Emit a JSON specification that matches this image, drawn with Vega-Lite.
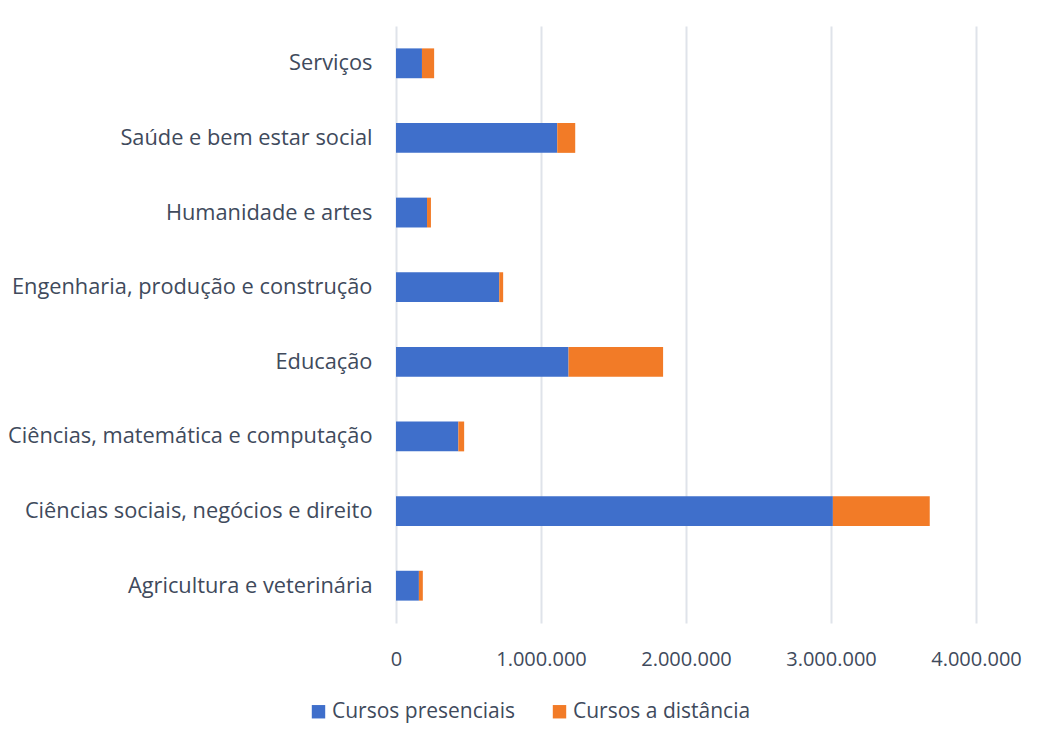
{
  "$schema": "https://vega.github.io/schema/vega-lite/v6.json",
  "width": 580,
  "height": 597,
  "autosize": {"type": "none"},
  "padding": {"left": 396, "top": 26, "right": 67, "bottom": 108},
  "background": "white",
  "config": {
    "locale": {"number": {"decimal": ",", "thousands": ".", "grouping": [3], "currency": ["R$", ""]}},
    "view": {"stroke": null},
    "font": "Open Sans"
  },
  "data": {
    "values": [
      {"area": "Serviços", "tipo": "Cursos presenciais", "ord": 1, "valor": 179000},
      {"area": "Serviços", "tipo": "Cursos a distância", "ord": 2, "valor": 84000},
      {"area": "Saúde e bem estar social", "tipo": "Cursos presenciais", "ord": 1, "valor": 1112000},
      {"area": "Saúde e bem estar social", "tipo": "Cursos a distância", "ord": 2, "valor": 124000},
      {"area": "Humanidade e artes", "tipo": "Cursos presenciais", "ord": 1, "valor": 214000},
      {"area": "Humanidade e artes", "tipo": "Cursos a distância", "ord": 2, "valor": 27000},
      {"area": "Engenharia, produção e construção", "tipo": "Cursos presenciais", "ord": 1, "valor": 712000},
      {"area": "Engenharia, produção e construção", "tipo": "Cursos a distância", "ord": 2, "valor": 27000},
      {"area": "Educação", "tipo": "Cursos presenciais", "ord": 1, "valor": 1190000},
      {"area": "Educação", "tipo": "Cursos a distância", "ord": 2, "valor": 652000},
      {"area": "Ciências, matemática e computação", "tipo": "Cursos presenciais", "ord": 1, "valor": 430000},
      {"area": "Ciências, matemática e computação", "tipo": "Cursos a distância", "ord": 2, "valor": 40000},
      {"area": "Ciências sociais, negócios e direito", "tipo": "Cursos presenciais", "ord": 1, "valor": 3013000},
      {"area": "Ciências sociais, negócios e direito", "tipo": "Cursos a distância", "ord": 2, "valor": 668000},
      {"area": "Agricultura e veterinária", "tipo": "Cursos presenciais", "ord": 1, "valor": 158000},
      {"area": "Agricultura e veterinária", "tipo": "Cursos a distância", "ord": 2, "valor": 27000}
    ]
  },
  "mark": {"type": "bar"},
  "encoding": {
    "y": {
      "field": "area",
      "type": "nominal",
      "sort": ["Serviços", "Saúde e bem estar social", "Humanidade e artes", "Engenharia, produção e construção", "Educação", "Ciências, matemática e computação", "Ciências sociais, negócios e direito", "Agricultura e veterinária"],
      "scale": {"paddingInner": 0.6, "paddingOuter": 0.3},
      "axis": {
        "title": null,
        "domain": false,
        "ticks": false,
        "labelPadding": 24,
        "labelFontSize": 21.8,
        "labelColor": "#404a5c",
        "labelLimit": 400
      }
    },
    "x": {
      "field": "valor",
      "type": "quantitative",
      "stack": "zero",
      "scale": {"domain": [0, 4000000]},
      "axis": {
        "title": null,
        "values": [0, 1000000, 2000000, 3000000, 4000000],
        "format": ",d",
        "domain": false,
        "ticks": false,
        "labelPadding": 26,
        "labelFontSize": 20,
        "labelColor": "#404a5c",
        "gridColor": "#dfe3ea",
        "gridWidth": 2,
        "labelFlush": false
      }
    },
    "color": {
      "field": "tipo",
      "type": "nominal",
      "scale": {"domain": ["Cursos presenciais", "Cursos a distância"], "range": ["#3f6fcb", "#f27b27"]},
      "legend": {
        "title": null,
        "orient": "none",
        "direction": "horizontal",
        "legendX": -88,
        "legendY": 675,
        "symbolType": "square",
        "symbolSize": 180,
        "symbolStrokeWidth": 0,
        "labelFontSize": 21,
        "labelColor": "#404a5c",
        "labelLimit": 400,
        "columnPadding": 33,
        "labelOffset": 3
      }
    },
    "order": {"field": "ord", "type": "quantitative"}
  }
}
